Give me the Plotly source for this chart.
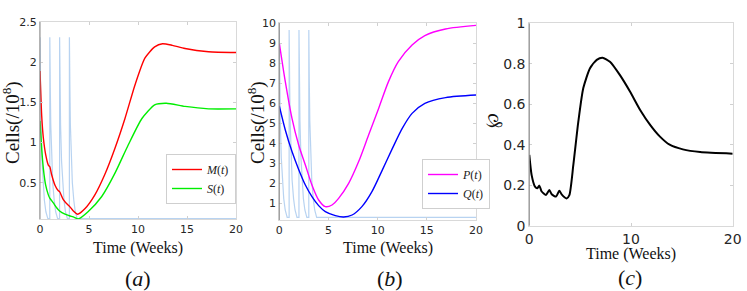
import plotly.graph_objects as go

W, H = 747, 291

# ---------------- data ----------------
# Panel (a)
m_t = [0, 0.17, 0.34, 0.58, 0.85, 1.0, 1.19, 1.53, 1.87, 2.0, 2.38, 2.89, 3.0, 3.4, 3.84,
       4.6, 5.6, 6.6, 7.65, 8.67, 9.7, 10.7, 11.7, 12.5, 13.5, 14.8, 17.2, 20]
m_v = [1.89, 1.34, 1.06, 0.85, 0.72, 0.70, 0.60, 0.47, 0.40, 0.39, 0.29, 0.22, 0.21, 0.15, 0.11,
       0.18, 0.35, 0.60, 0.93, 1.30, 1.72, 2.05, 2.19, 2.23, 2.21, 2.17, 2.13, 2.12]
s_t = [0, 0.17, 0.34, 0.58, 0.85, 1.0, 1.36, 1.7, 2.0, 2.55, 3.0, 3.5, 3.9,
       4.9, 6.3, 7.65, 9.0, 10.4, 11.7, 12.9, 14.8, 17.2, 20]
s_v = [1.27, 0.93, 0.68, 0.47, 0.35, 0.31, 0.25, 0.19, 0.15, 0.11, 0.09, 0.07, 0.05,
       0.14, 0.33, 0.62, 0.97, 1.30, 1.47, 1.49, 1.45, 1.42, 1.42]

# drug pulses (light blue), same time grid for (a) and (b)
d_t = [0, 0.05, 0.1, 0.2, 0.3, 0.45, 0.6, 0.8,
       0.999, 1.0, 1.05, 1.1, 1.2, 1.3, 1.45, 1.6, 1.8,
       1.999, 2.0, 2.05, 2.1, 2.2, 2.3, 2.45, 2.6, 2.8,
       2.999, 3.0, 3.05, 3.1, 3.2, 3.3, 3.45, 3.6, 3.8, 20]
d_a = [2.31, 1.68, 1.22, 0.77, 0.50, 0.28, 0.14, 0.055,
       0.055, 2.31, 1.68, 1.22, 0.77, 0.50, 0.28, 0.14, 0.055,
       0.055, 2.31, 1.68, 1.22, 0.77, 0.50, 0.28, 0.14, 0.055,
       0.055, 2.31, 1.68, 1.22, 0.77, 0.50, 0.28, 0.14, 0.055, 0.055]
d_b = [9.65, 7.03, 5.15, 3.27, 2.15, 1.22, 0.65, 0.28,
       0.28, 9.65, 7.03, 5.15, 3.27, 2.15, 1.22, 0.65, 0.28,
       0.28, 9.65, 7.03, 5.15, 3.27, 2.15, 1.22, 0.65, 0.28,
       0.28, 9.65, 7.03, 5.15, 3.27, 2.15, 1.22, 0.65, 0.28, 0.28]

# Panel (b)
p_t = [0, 0.61, 1.29, 1.97, 2.65, 3.32, 4.0, 4.68, 5.36, 6.03, 7.05, 8.07, 9.08, 10.1,
       11.1, 12.1, 13.5, 14.8, 16.9, 20]
p_v = [9.0, 7.07, 5.23, 3.9, 2.9, 1.9, 1.15, 0.82, 0.9, 1.23, 1.98, 3.07, 4.4, 5.73,
       7.07, 8.07, 8.9, 9.37, 9.7, 9.88]
q_t = [0, 0.61, 1.29, 1.97, 2.65, 3.32, 4.0, 4.68, 5.7, 6.54, 7.4, 8.4, 9.42, 10.4,
       11.5, 12.5, 13.5, 14.8, 16.9, 20]
q_v = [5.85, 4.65, 3.57, 2.68, 1.9, 1.32, 0.87, 0.57, 0.37, 0.3, 0.4, 0.82, 1.57, 2.57,
       3.73, 4.73, 5.48, 5.98, 6.27, 6.4]

# Panel (c)
o_t = [0, 0.23, 0.56, 0.79, 0.99, 1.2, 1.64, 1.97, 2.2, 2.63, 2.95, 3.18, 3.67, 3.94,
       4.33, 4.82, 5.31, 5.97, 6.63, 7.2, 7.93, 8.9, 9.9, 10.9, 11.9, 12.85, 13.8,
       15.1, 16.8, 20]
o_v = [0.35, 0.25, 0.193, 0.185, 0.198, 0.17, 0.152, 0.176, 0.155, 0.144, 0.173, 0.155,
       0.135, 0.151, 0.30, 0.514, 0.68, 0.778, 0.819, 0.83, 0.81, 0.745, 0.663, 0.572,
       0.497, 0.44, 0.40, 0.377, 0.364, 0.356]

xticks_ab = [0, 5, 10, 15, 20]
yticks_a = [0.5, 1, 1.5, 2, 2.5]
yticks_b = [1, 2, 3, 4, 5, 6, 7, 8, 9, 10]
xticks_c = [0, 10, 20]
yticks_c = [0, 0.2, 0.4, 0.6, 0.8, 1]

# ---------------- figure ----------------
def px(x):
    return x / W

def py(y):
    return 1 - y / H

fig = go.Figure()
drug_col = "rgba(160,196,236,0.75)"

fig.add_trace(go.Scatter(x=d_t, y=d_a, mode="lines", line=dict(color=drug_col, width=1.2),
                         xaxis="x", yaxis="y", showlegend=False))
fig.add_trace(go.Scatter(x=m_t, y=m_v, mode="lines", name="<i>M</i>(<i>t</i>)",
                         line=dict(color="#ff0000", width=1.4, shape="spline", smoothing=0.6),
                         xaxis="x", yaxis="y", legend="legend"))
fig.add_trace(go.Scatter(x=s_t, y=s_v, mode="lines", name="<i>S</i>(<i>t</i>)",
                         line=dict(color="#00ee00", width=1.4, shape="spline", smoothing=0.6),
                         xaxis="x", yaxis="y", legend="legend"))

fig.add_trace(go.Scatter(x=d_t, y=d_b, mode="lines", line=dict(color=drug_col, width=1.2),
                         xaxis="x2", yaxis="y2", showlegend=False))
fig.add_trace(go.Scatter(x=p_t, y=p_v, mode="lines", name="<i>P</i>(<i>t</i>)",
                         line=dict(color="#ff00ff", width=1.4, shape="spline", smoothing=0.8),
                         xaxis="x2", yaxis="y2", legend="legend2"))
fig.add_trace(go.Scatter(x=q_t, y=q_v, mode="lines", name="<i>Q</i>(<i>t</i>)",
                         line=dict(color="#0000ff", width=1.4, shape="spline", smoothing=0.8),
                         xaxis="x2", yaxis="y2", legend="legend2"))

fig.add_trace(go.Scatter(x=o_t, y=o_v, mode="lines",
                         line=dict(color="#000000", width=2, shape="spline", smoothing=0.6),
                         xaxis="x3", yaxis="y3", showlegend=False))

tickfont_s = dict(family="DejaVu Sans", size=11, color="#262626")
tickfont_l = dict(family="DejaVu Sans", size=14, color="#262626")
box = dict(showline=True, linecolor="#d9d9d9", linewidth=1, mirror="ticks",
           ticks="inside", ticklen=3, tickcolor="#d0d0d0", showgrid=False, zeroline=False,
           automargin=False)

serif = "Times New Roman"

fig.update_layout(
    template="none",
    width=W, height=H, margin=dict(l=0, r=0, t=0, b=0, autoexpand=False),
    paper_bgcolor="white", plot_bgcolor="white",
    xaxis=dict(domain=[px(40), px(236)], range=[0, 20], tickvals=xticks_ab,
               tickfont=tickfont_s, anchor="y", **box),
    yaxis=dict(domain=[py(219), py(22)], range=[0.05, 2.5], tickvals=yticks_a,
               ticktext=["0.5", "1", "1.5", "2", "2.5"],
               tickfont=tickfont_s, anchor="x", **box),
    xaxis2=dict(domain=[px(279.3), px(476)], range=[0, 20], tickvals=xticks_ab,
                tickfont=tickfont_s, anchor="y2", **box),
    yaxis2=dict(domain=[py(220), py(23)], range=[0.15, 10], tickvals=yticks_b,
                tickfont=tickfont_s, anchor="x2", **box),
    xaxis3=dict(domain=[px(529.3), px(732.7)], range=[0, 20], tickvals=xticks_c,
                tickfont=tickfont_l, anchor="y3", **box),
    yaxis3=dict(domain=[py(225.7), py(23.3)], range=[0, 1], tickvals=yticks_c,
                ticktext=["0", "0.2", "0.4", "0.6", "0.8", "1"],
                tickfont=tickfont_l, anchor="x3", **box),
    legend=dict(x=px(166), y=py(154), xanchor="left", yanchor="top",
                bgcolor="white", bordercolor="#cfcfcf", borderwidth=1,
                font=dict(family=serif, size=12, color="#222"),
                itemwidth=30, tracegroupgap=0),
    legend2=dict(x=px(422), y=py(159), xanchor="left", yanchor="top",
                 bgcolor="white", bordercolor="#cfcfcf", borderwidth=1,
                 font=dict(family=serif, size=12, color="#222"),
                 itemwidth=30, tracegroupgap=0),
    hovermode=False,
)

# darker left spines
for xd, y0, y1 in [(40, 22, 219), (279.3, 23, 220), (529.3, 23.3, 225.7)]:
    fig.add_shape(type="line", xref="paper", yref="paper", x0=px(xd), x1=px(xd),
                  y0=py(y1), y1=py(y0), line=dict(color="#8a8a8a", width=1))

ann = [
    dict(x=px(138), y=py(248), text="Time (Weeks)", size=16, angle=0),
    dict(x=px(388), y=py(248), text="Time (Weeks)", size=16, angle=0),
    dict(x=px(631), y=py(254), text="Time (Weeks)", size=16, angle=0),
    dict(x=px(138), y=py(278), text="(<i>a</i>)", size=22, angle=0),
    dict(x=px(390), y=py(278), text="(<i>b</i>)", size=22, angle=0),
    dict(x=px(630), y=py(277), text="(<i>c</i>)", size=22, angle=0),
    dict(x=px(11), y=py(123), text="Cells(/10<sup>8</sup>)", size=19, angle=-90),
    dict(x=px(256), y=py(123), text="Cells(/10<sup>8</sup>)", size=19, angle=-90),
    dict(x=px(492), y=py(121), text="℘", size=18, angle=-90),
]
for a in ann:
    fig.add_annotation(x=a["x"], y=a["y"], xref="paper", yref="paper", text=a["text"],
                       showarrow=False, textangle=a["angle"],
                       font=dict(family=serif, size=a["size"], color="#111"),
                       xanchor="center", yanchor="middle")

fig.write_html("out.html", config={"displayModeBar": False},
               post_script="document.body.style.margin='0';document.body.style.padding='0';")
